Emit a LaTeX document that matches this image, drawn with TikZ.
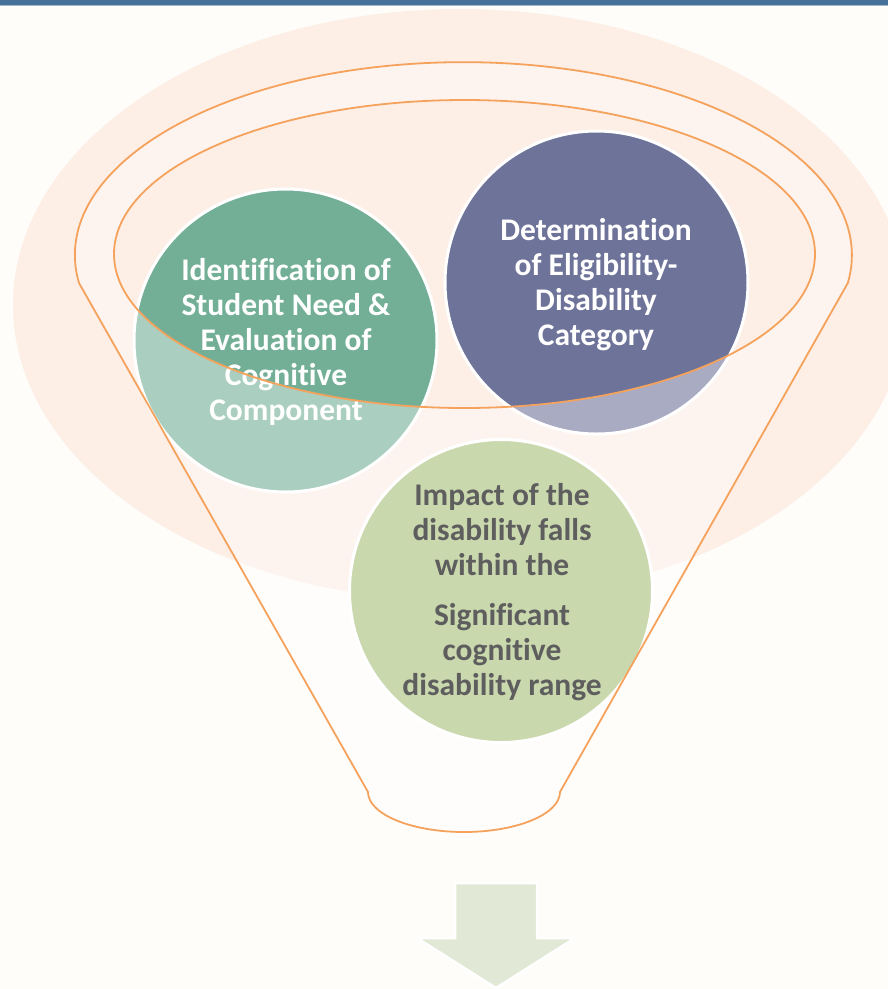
\documentclass[tikz,border=0pt]{standalone}
\usepackage{fontspec}
\setmainfont{Carlito}[RawFeature={-liga;-clig;-calt;-dlig}]
\newcommand{\nolig}{\kern0pt }
\definecolor{bgc}{HTML}{FEFDFA}
\definecolor{palec}{HTML}{FDEEE6}
\definecolor{barc}{HTML}{46729A}
\definecolor{barl}{HTML}{A3B7CB}
\definecolor{greend}{HTML}{72AF96}
\definecolor{purpd}{HTML}{6E7399}
\definecolor{yelld}{HTML}{A8BE78}
\definecolor{orangec}{HTML}{F5A25C}
\definecolor{grayt}{HTML}{5E5E5E}
\definecolor{arrowc}{HTML}{E1E8D5}
\tikzset{
  disc/.style={circle, draw=white, line width=3pt, minimum size=303pt, inner sep=0pt},
  lab/.style={anchor=base, inner sep=0pt, font=\fontsize{31.5}{35}\selectfont\bfseries},
  rim/.style={draw=orangec, line width=1.8pt},
}
\begin{document}
\begin{tikzpicture}[x=1pt,y=1pt]
\clip (0,0) rectangle (888,-989);
\useasboundingbox (0,0) rectangle (888,-989);
% background
\fill[bgc] (0,0) rectangle (888,-989);
\fill[palec] (460,-305) ellipse [x radius=447, y radius=296];
\fill[barc] (0,0) rectangle (888,-4.5);
\fill[barl] (0,-4.5) rectangle (888,-5.8);
% circles
\node[disc, fill=greend] (c1) at (285.5,-340.5) {};
\node[disc, fill=purpd] (c2) at (596.5,-282.5) {};
\node[disc, fill=yelld] (c3) at (501,-591) {};
% funnel translucent body (hole for the inner rim)
\fill[white, fill opacity=0.4, even odd rule]
  (79,-283) arc[start angle=188.3, end angle=-8.3, x radius=388.5, y radius=193]
  -- (560,-792) arc[start angle=0, end angle=-180, x radius=96, y radius=40]
  -- cycle
  (464.5,-254) ellipse [x radius=350.5, y radius=154];
% texts
\node[lab, text=white] (t1) at (286,-280)
  {\begin{tabular}[t]{@{}c@{}}Iden\nolig tif\nolig ica\nolig tion of\\Student Need \&\\Evaluation of\\Cogni\nolig tive\\Component\end{tabular}};
\node[lab, text=white] (t2) at (596,-240)
  {\begin{tabular}[t]{@{}c@{}}Determina\nolig tion\\of Eligibility-\\Disability\\Category\end{tabular}};
\node[lab, text=grayt] (t3) at (502,-505)
  {\begin{tabular}[t]{@{}c@{}}Impact of the\\disability falls\\within the\\[15pt]Signif\nolig icant\\cogni\nolig tive\\disability range\end{tabular}};
% funnel outline
\draw[rim, line join=round]
  (79,-283) arc[start angle=188.3, end angle=-8.3, x radius=388.5, y radius=193]
  -- (560,-792) arc[start angle=0, end angle=-180, x radius=96, y radius=40]
  -- cycle;
\draw[rim] (464.5,-254) ellipse [x radius=350.5, y radius=154];
% down arrow
\fill[arrowc, draw=white, line width=2.5pt, line join=miter]
  (455,-883) -- (537,-883) -- (537,-938) -- (575,-938) -- (496,-988)
  -- (417,-938) -- (455,-938) -- cycle;
\end{tikzpicture}
\end{document}
